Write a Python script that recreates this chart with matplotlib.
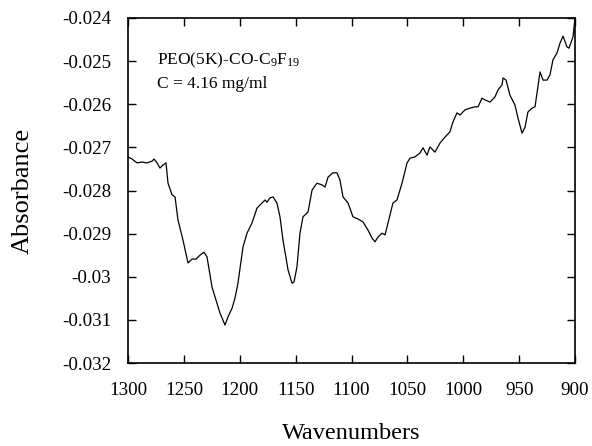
import matplotlib
matplotlib.use("Agg")
import matplotlib.pyplot as plt

plt.rcParams['font.family'] = ['Liberation Serif', 'DejaVu Serif']
plt.rcParams['mathtext.fontset'] = 'custom'
plt.rcParams['mathtext.rm'] = 'Liberation Serif'
plt.rcParams['mathtext.it'] = 'Liberation Serif'

wavenumber = [1300.0, 1296.4, 1291.9, 1287.5, 1283.0, 1278.5, 1276.7, 1274.0, 1271.4, 1268.7,
              1266.0, 1264.2, 1260.6, 1257.9, 1255.3, 1250.8, 1246.3, 1242.7, 1239.1, 1235.6,
              1232.0, 1229.3, 1224.8, 1222.1, 1217.7, 1213.2, 1210.5, 1206.9, 1204.2, 1201.6,
              1197.1, 1193.5, 1189.0, 1184.6, 1180.1, 1177.4, 1175.6, 1172.9, 1170.2, 1166.7,
              1164.0, 1161.3, 1156.8, 1153.2, 1151.4, 1148.8, 1146.1, 1143.4, 1138.9, 1135.3,
              1130.9, 1126.4, 1123.7, 1121.0, 1116.6, 1113.0, 1110.3, 1107.6, 1103.1, 1098.7,
              1094.2, 1089.7, 1085.2, 1081.7, 1079.0, 1076.3, 1072.7, 1070.0, 1067.3, 1062.9,
              1059.3, 1054.8, 1050.3, 1047.6, 1043.2, 1038.7, 1036.0, 1032.4, 1029.8, 1025.3,
              1020.8, 1016.3, 1011.9, 1009.2, 1005.6, 1002.9, 998.4, 993.9, 989.5, 986.8,
              983.2, 980.5, 976.0, 971.6, 968.9, 965.3, 964.4, 961.7, 958.2, 953.7,
              951.0, 947.4, 944.7, 942.1, 938.5, 935.8, 934.0, 931.3, 928.6, 925.0,
              922.4, 919.7, 916.1, 913.4, 910.7, 907.2, 905.4, 901.8, 900.0]
absorbance = [-0.02722, -0.02727, -0.02736, -0.02734, -0.02736, -0.02732, -0.02727, -0.02736, -0.02748, -0.02741,
              -0.02736, -0.02783, -0.02810, -0.02815, -0.02868, -0.02915, -0.02968, -0.02959, -0.02959, -0.02950,
              -0.02943, -0.02954, -0.03024, -0.03047, -0.03084, -0.03112, -0.03093, -0.03073, -0.03049, -0.03015,
              -0.02931, -0.02899, -0.02875, -0.02841, -0.02829, -0.02822, -0.02827, -0.02817, -0.02815, -0.02829,
              -0.02861, -0.02915, -0.02984, -0.03015, -0.03012, -0.02977, -0.02899, -0.02861, -0.02850, -0.02799,
              -0.02783, -0.02787, -0.02792, -0.02769, -0.02759, -0.02759, -0.02776, -0.02815, -0.02829, -0.02861,
              -0.02866, -0.02873, -0.02892, -0.02910, -0.02919, -0.02908, -0.02899, -0.02903, -0.02875, -0.02829,
              -0.02822, -0.02783, -0.02736, -0.02725, -0.02722, -0.02713, -0.02701, -0.02718, -0.02699, -0.02711,
              -0.02690, -0.02676, -0.02664, -0.02641, -0.02620, -0.02625, -0.02613, -0.02609, -0.02606, -0.02606,
              -0.02586, -0.02590, -0.02595, -0.02583, -0.02567, -0.02555, -0.02539, -0.02544, -0.02579, -0.02602,
              -0.02632, -0.02667, -0.02653, -0.02618, -0.02609, -0.02606, -0.02574, -0.02525, -0.02544, -0.02544,
              -0.02532, -0.02497, -0.02481, -0.02458, -0.02442, -0.02467, -0.02470, -0.02444, -0.02400]

xticks = [1300, 1250, 1200, 1150, 1100, 1050, 1000, 950, 900]
xticklabels = ["1300", "1250", "1200", "1150", "1100", "1050", "1000", "950", "900"]
yticks = [-0.032, -0.031, -0.030, -0.029, -0.028, -0.027, -0.026, -0.025, -0.024]
yticklabels = ["-0.032", "-0.031", "-0.03", "-0.029", "-0.028", "-0.027", "-0.026", "-0.025", "-0.024"]

W, H = 592, 446
fig = plt.figure(figsize=(W / 100, H / 100), dpi=100)
ax = fig.add_axes([128/W, 1 - 363/H, (575-128)/W, (363-18)/H])

ax.plot(wavenumber, absorbance, color='black', lw=0.9)

ax.set_xlim(1300, 900)
ax.set_ylim(-0.032, -0.024)
ax.set_xticks(xticks)
ax.set_xticklabels(xticklabels)
ax.set_yticks(yticks)
ax.set_yticklabels(yticklabels)

ax.tick_params(direction='in', length=6, width=1.0, top=True, right=True,
               labelsize=13.7, colors='black')
ax.tick_params(axis='x', pad=14)
ax.tick_params(axis='y', pad=12)
for s in ax.spines.values():
    s.set_linewidth(1.2)

ax.set_xlabel('Wavenumbers', fontsize=17.5)
ax.set_ylabel('Absorbance', fontsize=19)
ax.xaxis.set_label_coords(0.5, -0.175)
ax.yaxis.set_label_coords(-0.21, 0.5)

fig.text(157/W, 1 - 64/H, r'PEO(5K)-CO-C$_9$F$_{19}$', fontsize=12.5,
         ha='left', va='baseline')
fig.text(157/W, 1 - 88/H, 'C = 4.16 mg/ml', fontsize=12.5,
         ha='left', va='baseline')

fig.savefig('out.png', dpi=100)
